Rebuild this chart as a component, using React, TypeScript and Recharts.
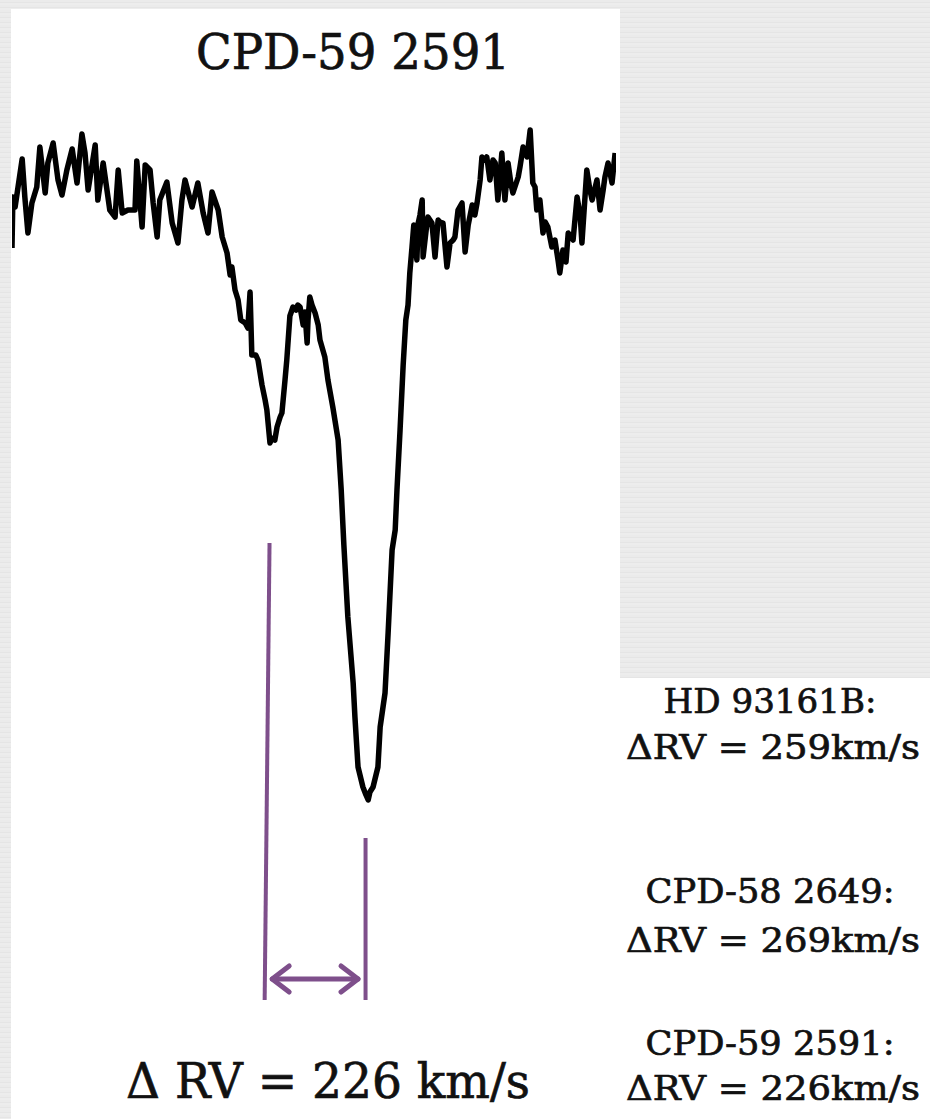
import React from "react";
import { LineChart, Line, XAxis, YAxis, ReferenceLine } from "recharts";

// Velocity grid (km/s) and normalised flux of the CPD-59 2591 line profile
const velocity = [
  -687, -685, -680, -664, -658, -651, -642, -631, -624, -612, -606, -594, -583, -574, -563, -551,
  -540, -529, -522, -515, -499, -493, -481, -466, -454, -447, -438, -425, -409, -405, -393, -386,
  -375, -368, -359, -353, -337, -325, -312, -303, -296, -280, -267, -255, -244, -235, -221, -212,
  -201, -194, -190, -183, -176, -170, -160, -154, -149, -145, -136, -131, -122, -115, -111, -104,
  -99, -93, -88, -81, -77, -70, -66, -59, -52, -45, -41, -36, -29, -25, -20, -18,
  -14, -9, -2, 5, 9, 20, 27, 38, 50, 57, 63, 72, 84, 88, 95, 106,
  113, 118, 122, 129, 140, 145, 156, 163, 172, 179, 183, 190, 197, 203, 208, 212,
  217, 221, 228, 231, 235, 240, 242, 249, 253, 262, 269, 276, 280, 287, 296, 303,
  310, 314, 321, 330, 337, 344, 353, 359, 364, 371, 375, 382, 386, 393, 400, 405,
  411, 416, 420, 427, 434, 441, 445, 457, 461, 468, 477, 484, 490, 495, 499, 506,
  513, 518, 524, 533, 540, 547, 551, 558, 565, 570, 581, 590, 597, 601, 612, 619,
  624, 635, 642, 649, 653, 660, 669, 676,
];

const flux = [
  0.942, 0.993, 0.983, 1.031, 0.993, 0.957, 0.987, 1.003, 1.043, 0.997, 1.027, 1.047, 1.01, 0.995, 1.02, 1.041,
  1.007, 1.056, 1.037, 1.0, 1.045, 0.99, 1.027, 0.98, 0.973, 1.02, 0.977, 0.98, 0.98, 1.029, 0.963, 1.025,
  1.02, 0.987, 0.953, 0.99, 1.008, 0.967, 0.947, 0.99, 1.01, 0.983, 1.007, 0.977, 0.957, 0.998, 0.98, 0.953,
  0.937, 0.915, 0.923, 0.9, 0.89, 0.87, 0.867, 0.862, 0.898, 0.835, 0.835, 0.83, 0.805, 0.79, 0.78, 0.747,
  0.752, 0.75, 0.763, 0.773, 0.777, 0.81, 0.83, 0.874, 0.883, 0.88, 0.885, 0.883, 0.865, 0.878, 0.847, 0.87,
  0.893, 0.885, 0.877, 0.865, 0.85, 0.833, 0.81, 0.783, 0.75, 0.7, 0.645, 0.573, 0.507, 0.473, 0.423, 0.403,
  0.395, 0.39, 0.398, 0.403, 0.423, 0.463, 0.497, 0.557, 0.64, 0.66, 0.7, 0.76, 0.825, 0.87, 0.885, 0.917,
  0.943, 0.965, 0.93, 0.967, 0.975, 0.99, 0.933, 0.96, 0.973, 0.967, 0.933, 0.97, 0.968, 0.967, 0.923, 0.947,
  0.95, 0.953, 0.98, 0.987, 0.938, 0.965, 0.985, 0.975, 0.987, 1.01, 1.033, 1.03, 1.033, 1.01, 1.03, 1.027,
  0.99, 1.015, 1.037, 0.99, 1.027, 1.005, 0.997, 1.013, 1.023, 1.043, 1.033, 1.06, 1.007, 1.003, 0.98, 0.99,
  0.957, 0.968, 0.963, 0.943, 0.95, 0.93, 0.917, 0.94, 0.928, 0.957, 0.95, 0.993, 0.975, 0.947, 1.02, 1.0,
  0.99, 1.01, 0.98, 1.0, 1.013, 1.027, 1.007, 1.037,
];

// Component markers: secondary (blue-shifted) and primary (red-shifted)
const secondaryMarker = [
  { v: -105, f: 0.647 },
  { v: -116, f: 0.19 },
];
const primaryMarker = [
  { v: 112, f: 0.352 },
  { v: 112, f: 0.19 },
];
const separationArrow = [
  { v: -99, f: 0.211 },
  { v: 95, f: 0.211 },
];

const starName = "CPD-59 2591";
const deltaRvLabel = "\u0394 RV = 226 km/s";
const comparison = [
  { name: "HD 93161B:", rv: "\u0394RV = 259km/s" },
  { name: "CPD-58 2649:", rv: "\u0394RV = 269km/s" },
  { name: "CPD-59 2591:", rv: "\u0394RV = 226km/s" },
];

const spectrum = velocity.map((v, i) => ({ v, f: flux[i] }));

const PURPLE = "#7e4f8b";
const FONT = "'DejaVu Serif', serif";

const texture =
  "repeating-linear-gradient(180deg, #ebebeb 0px, #ebebeb 2px, #e5e5e5 2px, #e5e5e5 3px, #ededed 3px, #ededed 5px)";

// Double-headed arrow drawn on a reference segment
const ArrowShape = (props: any) => {
  const { x1, y1, x2, y2 } = props;
  const hx = 17;
  const hy = 13;
  return (
    <g stroke={PURPLE} strokeWidth={5} fill="none" strokeLinecap="round" strokeLinejoin="round">
      <line x1={x1} y1={y1} x2={x2} y2={y2} />
      <polyline points={`${x1 + hx},${y1 - hy} ${x1},${y1} ${x1 + hx},${y1 + hy}`} />
      <polyline points={`${x2 - hx},${y2 - hy} ${x2},${y2} ${x2 - hx},${y2 + hy}`} />
    </g>
  );
};

export default function App() {
  return (
    <div
      style={{
        position: "absolute",
        left: 0,
        top: 0,
        width: 930,
        height: 1119,
        overflow: "hidden",
        background: texture,
      }}
    >
      {/* white spectrum panel */}
      <div style={{ position: "absolute", left: 11, top: 9, width: 609, height: 1110, background: "#fff" }} />
      {/* white caption panel */}
      <div style={{ position: "absolute", left: 620, top: 678, width: 310, height: 441, background: "#fff" }} />

      <div style={{ position: "absolute", left: 0, top: 0 }}>
        <LineChart width={620} height={1119} data={spectrum} margin={{ top: 0, right: 4, left: 12, bottom: 0 }}>
          <XAxis type="number" dataKey="v" domain={[-687, 678]} allowDataOverflow hide />
          <YAxis type="number" domain={[0.071, 1.19]} allowDataOverflow hide />
          <Line
            type="linear"
            dataKey="f"
            stroke="#000"
            strokeWidth={5.5}
            strokeLinejoin="round"
            dot={false}
            isAnimationActive={false}
          />
          <ReferenceLine
            segment={secondaryMarker.map((p) => ({ x: p.v, y: p.f }))}
            stroke={PURPLE}
            strokeWidth={4}
          />
          <ReferenceLine
            segment={primaryMarker.map((p) => ({ x: p.v, y: p.f }))}
            stroke={PURPLE}
            strokeWidth={4}
          />
          <ReferenceLine
            segment={separationArrow.map((p) => ({ x: p.v, y: p.f }))}
            shape={ArrowShape}
          />
        </LineChart>
      </div>

      <svg
        width={930}
        height={1119}
        style={{ position: "absolute", left: 0, top: 0, pointerEvents: "none" }}
        fontFamily={FONT}
        fill="#111"
        stroke="#111"
        strokeWidth={0.7}
      >
        <text x={353} y={69} fontSize={48} textAnchor="middle" textLength={314} lengthAdjust="spacingAndGlyphs">
          {starName}
        </text>
        <text x={328} y={1098} fontSize={48} textAnchor="middle" textLength={404} lengthAdjust="spacingAndGlyphs">
          {deltaRvLabel}
        </text>
        {comparison.map((c, i) => {
          const nameY = [713, 903, 1055][i];
          const rvY = [759, 952, 1100][i];
          const nameW = [213, 249, 249][i];
          return (
            <g key={c.name}>
              <text x={770} y={nameY} fontSize={34} textAnchor="middle" textLength={nameW} lengthAdjust="spacingAndGlyphs">
                {c.name}
              </text>
              <text x={773} y={rvY} fontSize={34} textAnchor="middle" textLength={294} lengthAdjust="spacingAndGlyphs">
                {c.rv}
              </text>
            </g>
          );
        })}
      </svg>
    </div>
  );
}
